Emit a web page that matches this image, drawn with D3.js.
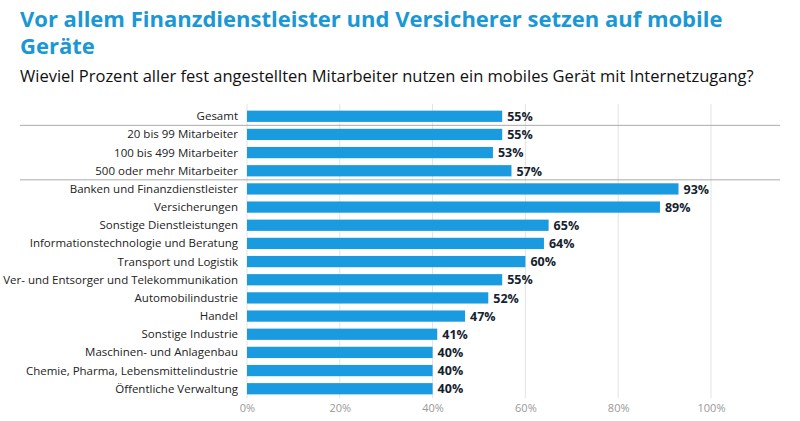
<!DOCTYPE html>
<html><head><meta charset="utf-8">
<script src="https://cdn.jsdelivr.net/npm/d3@7"></script>
<style>body{margin:0;background:#fff;font-family:"Open Sans",sans-serif;}</style>
</head><body><div id="chart"></div>
<script>
var categories = ["Gesamt","20 bis 99 Mitarbeiter","100 bis 499 Mitarbeiter","500 oder mehr Mitarbeiter",
  "Banken und Finanzdienstleister","Versicherungen","Sonstige Dienstleistungen","Informationstechnologie und Beratung",
  "Transport und Logistik","Ver- und Entsorger und Telekommunikation","Automobilindustrie","Handel",
  "Sonstige Industrie","Maschinen- und Anlagenbau","Chemie, Pharma, Lebensmittelindustrie","Öffentliche Verwaltung"];
var values = [55,55,53,57,93,89,65,64,60,55,52,47,41,40,40,40];
var ticks = [0,20,40,60,80,100];
var separatorsAfter = [0,3];

var svg = d3.select("#chart").append("svg").attr("width",800).attr("height",421);
svg.append("text").attr("x",20).attr("y",27).attr("fill","#1a98d5")
  .style("font-size","22px").style("font-weight","700").text("Vor allem Finanzdienstleister und Versicherer setzen auf mobile");
svg.append("text").attr("x",20).attr("y",54).attr("fill","#1a98d5")
  .style("font-size","22px").style("font-weight","700").text("Geräte");
svg.append("text").attr("x",20).attr("y",82).attr("fill","#111")
  .style("font-size","16.5px").text("Wieviel Prozent aller fest angestellten Mitarbeiter nutzen ein mobiles Gerät mit Internetzugang?");

var x = d3.scaleLinear().domain([0,100]).range([247,711]);
var y = d3.scaleBand().domain(categories).range([107,398]).paddingInner(0.38).paddingOuter(0.2);

// gridlines
svg.selectAll(".grid").data(ticks).enter().append("line")
  .attr("x1",d=>x(d)).attr("x2",d=>x(d)).attr("y1",104).attr("y2",398)
  .attr("stroke","#e3e3e3");

var xAxis = svg.append("g").attr("transform","translate(0,398)")
  .call(d3.axisBottom(x).tickValues(ticks).tickFormat(d=>d+"%").tickSize(0).tickPadding(6));
xAxis.select(".domain").remove();
xAxis.selectAll("text").attr("fill","#999").style("font-size","11px").style("font-family","Open Sans");

// separators
var step = y.step();
svg.selectAll(".sep").data(separatorsAfter).enter().append("line")
  .attr("x1",20).attr("x2",780)
  .attr("y1",d=>y(categories[d])+y.bandwidth()+step*0.19)
  .attr("y2",d=>y(categories[d])+y.bandwidth()+step*0.19)
  .attr("stroke","#aaa");

svg.selectAll(".bar").data(values).enter().append("rect")
  .attr("x",x(0)).attr("y",(d,i)=>y(categories[i]))
  .attr("width",d=>x(d)-x(0)).attr("height",y.bandwidth()).attr("fill","#1a9be0");

svg.selectAll(".lab").data(categories).enter().append("text")
  .attr("x",238).attr("y",d=>y(d)+y.bandwidth()/2).attr("dy","0.35em")
  .attr("text-anchor","end").attr("fill","#222").style("font-size","11.5px").text(d=>d);

svg.selectAll(".val").data(values).enter().append("text")
  .attr("x",d=>x(d)+5).attr("y",(d,i)=>y(categories[i])+y.bandwidth()/2).attr("dy","0.38em")
  .attr("fill","#14232e").style("font-size","12.5px").style("font-weight","700").text(d=>d+"%");
</script></body></html>
